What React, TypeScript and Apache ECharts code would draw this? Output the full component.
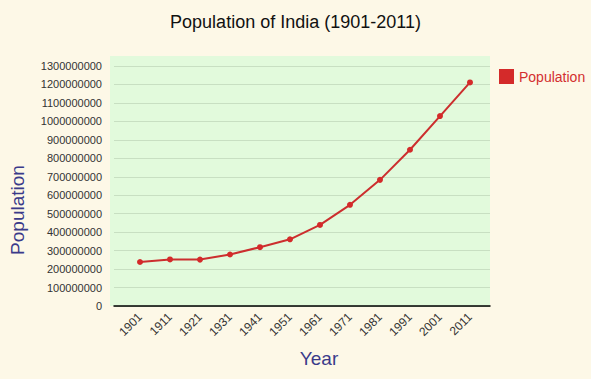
import React, { useEffect, useRef } from "react";
import * as echarts from "echarts";

const years = ["1901", "1911", "1921", "1931", "1941", "1951", "1961", "1971", "1981", "1991", "2001", "2011"];
const population = [238396327, 252093390, 251321213, 278977238, 318660580, 361088090, 439234771, 548159652, 683329097, 846421039, 1028737436, 1210854977];
const yMin = 0;
const yMax = 1300000000;
const yStep = 100000000;

export default function App() {
  const ref = useRef<HTMLDivElement>(null);
  useEffect(() => {
    const chart = echarts.init(ref.current!, null, { renderer: "svg" });
    const font = "Arial, 'Liberation Sans', sans-serif";
    chart.setOption({
      animation: false,
      backgroundColor: "#fdf8e7",
      title: {
        text: "Population of India (1901-2011)",
        left: "center",
        top: 8,
        textStyle: { fontFamily: font, fontSize: 18, fontWeight: "normal", color: "#111" },
      },
      legend: {
        data: ["Population"],
        left: 494,
        top: 64,
        icon: "rect",
        itemWidth: 15,
        itemHeight: 15,
        itemGap: 6,
        textStyle: { fontFamily: font, fontSize: 14, color: "#d32f2f" },
      },
      graphic: [
        { type: "rect", z: -10, shape: { x: 110, y: 56, width: 380, height: 250 }, style: { fill: "#e2fadc" }, silent: true },
      ],
      grid: [
        { left: 110, width: 380, top: 66, height: 240 },
        { left: 140, width: 330, top: 66, height: 240 },
      ],
      xAxis: [
        {
          gridIndex: 0,
          type: "value",
          min: 0,
          max: 1,
          axisLine: { show: true, onZero: false, lineStyle: { color: "#000", width: 1.5 } },
          axisTick: { show: false },
          axisLabel: { show: false },
          splitLine: { show: false },
        },
        {
          gridIndex: 1,
          type: "category",
          data: years,
          boundaryGap: false,
          axisLine: { show: false },
          axisTick: { show: false },
          axisLabel: { rotate: 45, margin: 9, fontFamily: font, fontSize: 12, color: "#333" },
          name: "Year",
          nameLocation: "middle",
          nameGap: 43,
          nameTextStyle: { fontFamily: font, fontSize: 19, color: "#3a3a8a", padding: [0, 0, 0, 28] },
        },
      ],
      yAxis: [
        {
          gridIndex: 0,
          type: "value",
          min: yMin,
          max: yMax,
          interval: yStep,
          axisLine: { show: false },
          axisTick: { show: false },
          axisLabel: { fontFamily: font, fontSize: 11, color: "#333", margin: 12, formatter: (v: number) => String(v) },
          splitLine: { show: true, lineStyle: { color: "#c8dfc2", width: 1 } },
          name: "Population",
          nameLocation: "middle",
          nameGap: 87,
          nameTextStyle: { fontFamily: font, fontSize: 19, color: "#3a3a8a", padding: [0, 48, 0, 0] },
        },
        {
          gridIndex: 1,
          type: "value",
          min: yMin,
          max: yMax,
          interval: yStep,
          show: false,
          splitLine: { show: false },
        },
      ],
      series: [
        {
          name: "Population",
          type: "line",
          xAxisIndex: 1,
          yAxisIndex: 1,
          data: population,
          color: "#e02020",
          symbol: "circle",
          symbolSize: 6,
          lineStyle: { color: "#cc2e2e", width: 2 },
          itemStyle: { color: "#d42a2a" },
        },
      ],
    });
    return () => chart.dispose();
  }, []);
  return <div ref={ref} style={{ width: 591, height: 379, position: "absolute", left: 0, top: 0 }} />;
}
